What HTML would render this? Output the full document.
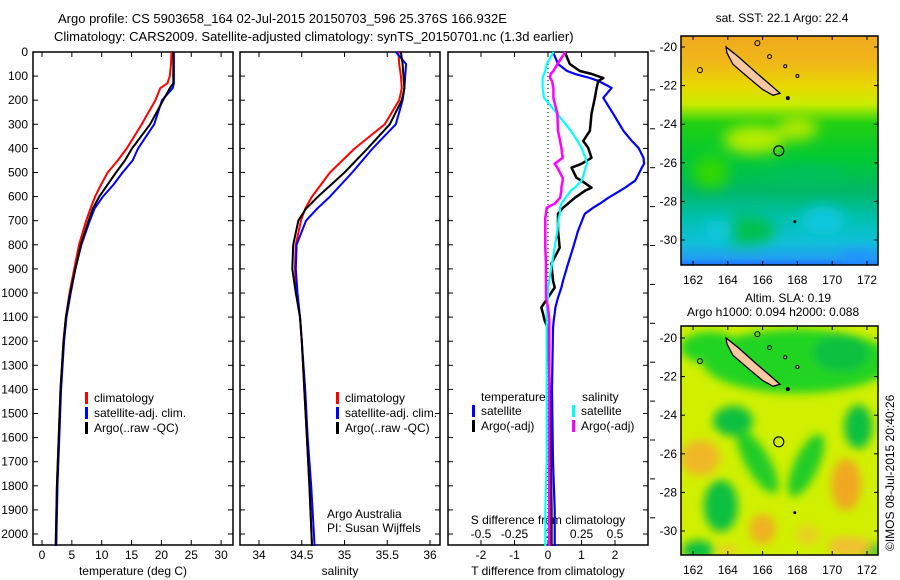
<!DOCTYPE html>
<html><head><meta charset="utf-8"><style>
html,body{margin:0;padding:0;background:#fff}
svg{display:block;font-family:"Liberation Sans",sans-serif}
text{font-size:12px;fill:#000}
</style></head><body>
<svg id="fig" width="900" height="580" viewBox="0 0 900 580" xmlns="http://www.w3.org/2000/svg">
<defs>
<filter id="blur" x="-20%" y="-20%" width="140%" height="140%"><feGaussianBlur stdDeviation="7"/></filter>
<filter id="blur2" x="-30%" y="-30%" width="160%" height="160%"><feGaussianBlur stdDeviation="4.5"/></filter>
<clipPath id="clipTop"><rect x="681" y="36" width="197" height="229"/></clipPath>
<clipPath id="clipBot"><rect x="681" y="326" width="197" height="229"/></clipPath>
<linearGradient id="sstGrad" x1="0" y1="0" x2="0" y2="1">
<stop offset="0" stop-color="#f0a820"/><stop offset="0.12" stop-color="#f0b818"/>
<stop offset="0.22" stop-color="#e8d800"/><stop offset="0.3" stop-color="#c8ec00"/>
<stop offset="0.38" stop-color="#20d010"/><stop offset="0.55" stop-color="#00c838"/>
<stop offset="0.68" stop-color="#00b868"/><stop offset="0.8" stop-color="#00c0b0"/>
<stop offset="0.9" stop-color="#10c0d8"/><stop offset="0.97" stop-color="#20a0f0"/><stop offset="1" stop-color="#2070ff"/>
</linearGradient>
</defs>
<text x="58" y="23" style="font-size:13px">Argo profile: CS 5903658_164 02-Jul-2015 20150703_596 25.376S 166.932E</text>
<text x="54" y="41" style="font-size:13px">Climatology: CARS2009. Satellite-adjusted climatology: synTS_20150701.nc (1.3d earlier)</text>
<g id="g"></g>
</svg>
<script>
// ---- data ----
const tDepth = [0,50,100,130,150,200,300,400,450,500,550,600,650,700,800,900,1000,1100,1200,1400,1600,1800,2050];
const tClim  = [21.7,21.6,21.4,21.0,19.8,19.0,16.7,14.2,12.7,11.0,9.9,8.9,8.1,7.4,6.2,5.4,4.6,4.0,3.6,3.1,2.8,2.5,2.3];
const tSat   = [22.1,22.1,22.1,22.1,21.9,20.1,18.8,16.1,15.2,13.5,12.0,10.2,8.8,8.0,6.6,5.6,4.8,4.1,3.7,3.2,2.9,2.6,2.4];
const tArgo  = [22.0,22.0,22.0,22.0,21.4,20.3,18.1,15.1,13.9,12.4,11.0,9.6,8.5,7.8,6.5,5.6,4.7,4.0,3.6,3.1,2.8,2.5,2.3];
const sDepth = [0,50,100,150,200,300,400,500,600,650,700,800,900,1000,1100,1200,1400,1600,1800,2050];
const sClim  = [35.63,35.64,35.66,35.67,35.64,35.47,35.12,34.83,34.62,34.54,34.49,34.43,34.42,34.44,34.48,34.50,34.53,34.56,34.59,34.62];
const sSat   = [35.60,35.72,35.71,35.70,35.68,35.60,35.33,35.09,34.83,34.68,34.55,34.44,34.43,34.45,34.48,34.50,34.54,34.57,34.61,34.65];
const sArgo  = [35.66,35.68,35.69,35.70,35.67,35.53,35.27,35.00,34.69,34.55,34.46,34.40,34.39,34.43,34.48,34.50,34.53,34.56,34.59,34.62];
const dDepth = [0,50,79,91,108,120,149,190,257,327,369,398,439,464,480,522,534,563,576,605,629,646,671,687,741,812,878,948,977,1019,1060,1085,1114,1147,1400,1700,1900,2050];
const dTSat  = [0.15,0.3,0.57,0.8,1.25,1.5,1.9,1.65,1.95,2.25,2.5,2.7,2.85,2.87,2.8,2.65,2.6,2.3,2.15,1.8,1.55,1.35,1.1,1.05,0.9,0.75,0.6,0.45,0.4,0.3,0.22,0.2,0.17,0.15,0.12,0.15,0.2,0.2];
const dTArgo = [0.5,0.65,0.95,1.3,1.65,1.5,1.45,1.4,1.3,1.25,1.05,1.2,1.3,1.0,0.7,0.85,1.0,1.3,1.1,0.8,0.6,0.45,0.3,0.3,0.3,0.35,0.1,0.15,0.2,0.0,-0.2,-0.15,-0.1,0.0,0.05,0.08,0.1,0.1];
const dSSat  = [0.04,-0.01,-0.02,-0.03,-0.04,-0.04,-0.04,-0.03,0.07,0.17,0.22,0.25,0.28,0.29,0.28,0.26,0.25,0.2,0.17,0.13,0.1,0.09,0.09,0.08,0.07,0.05,0.03,0.01,0.0,0.0,-0.01,-0.01,-0.01,-0.01,-0.01,-0.01,-0.02,-0.02];
const dSArgo = [0.13,0.07,0.04,0.02,0.015,0.03,0.04,0.04,0.07,0.075,0.09,0.1,0.11,0.05,0.07,0.11,0.11,0.1,0.1,0.09,0.05,-0.01,-0.015,-0.02,-0.02,-0.02,-0.015,-0.015,-0.015,-0.015,0.0,0.005,0.01,0.01,0.01,0.01,0.01,0.01];
const depthTicks = [0,100,200,300,400,500,600,700,800,900,1000,1100,1200,1300,1400,1500,1600,1700,1800,1900,2000];
const tempTicks = [0,5,10,15,20,25,30];
const salTicks = [34,34.5,35,35.5,36];
const tdTicks = [-2,-1,0,1,2];
const sdTicks = [-0.5,-0.25,0,0.25,0.5];
const sdLabels = ["-0.5","-0.25","0","0.25","0.5"];
const lonTicks = [162,164,166,168,170,172];
const latTicks = [20,22,24,26,28,30];

// ---- scales ----
const yD = d => 52 + d*0.241;
const xT = t => 42 + t*5.97;
const xS = s => 259 + (s-34)*85.5;
const xTD = v => 548 + v*33.5;
const xSD = v => 548 + v*134;
const lonX = l => 693 + (l-162)*17.4;
const latYt = l => 47 + (l-20)*19.3;
const latYb = l => 338 + (l-20)*19.3;

const NS="http://www.w3.org/2000/svg";
const g=document.getElementById('g');
function el(tag,attrs,parent){const e=document.createElementNS(NS,tag);for(const k in attrs)e.setAttribute(k,attrs[k]);(parent||g).appendChild(e);return e;}
function txt(x,y,s,anchor,size){const t=el('text',{x:x,y:y,'text-anchor':anchor||'start'});if(size)t.style.fontSize=size+'px';t.textContent=s;return t;}
function line(xs,ds,xf,color,w,name){
  const p=xs.map((v,i)=>xf(v).toFixed(1)+','+yD(ds[i]).toFixed(1)).join(' ');
  const e=el('polyline',{points:p,fill:'none',stroke:color,'stroke-width':w,'stroke-linejoin':'round'});
  
  
}
function frame(x,y,w,h,name){const r=el('rect',{x:x,y:y,width:w,height:h,fill:'none',stroke:'#000','stroke-width':1.5});
  
  }

frame(33,52,200,493,'temperature-panel');
frame(240,52,200,493,'salinity-panel');
frame(448,52,200,493,'difference-panel');
depthTicks.forEach(d=>{
  const y=yD(d);
  [33,240,448].forEach(x0=>{el('line',{x1:x0,y1:y,x2:x0+5,y2:y,stroke:'#000'});el('line',{x1:x0+195,y1:y,x2:x0+200,y2:y,stroke:'#000'});});
  const t=txt(28,y+4,String(d),'end');
  
  
});
for(let y=51;y<545;y+=38.9){el('line',{x1:650,y1:y,x2:655,y2:y,stroke:'#000'});}
tempTicks.forEach(t=>{const x=xT(t);el('line',{x1:x,y1:545,x2:x,y2:540,stroke:'#000'});el('line',{x1:x,y1:52,x2:x,y2:57,stroke:'#000'});
  const l=txt(x,559,String(t),'middle');});
salTicks.forEach(s=>{const x=xS(s);el('line',{x1:x,y1:545,x2:x,y2:540,stroke:'#000'});el('line',{x1:x,y1:52,x2:x,y2:57,stroke:'#000'});
  const l=txt(x,559,String(s),'middle');});
tdTicks.forEach(t=>{const x=xTD(t);el('line',{x1:x,y1:545,x2:x,y2:540,stroke:'#000'});el('line',{x1:x,y1:52,x2:x,y2:57,stroke:'#000'});
  const l=txt(x,559,String(t),'middle');});
sdTicks.forEach((s,i)=>{const l=txt(xSD(s),538,sdLabels[i],'middle');});
[[133,575,'temperature (deg C)','x-axis-title-temperature'],[340,575,'salinity','x-axis-title-salinity'],[548,575,'T difference from climatology','x-axis-title-t-diff'],[548,524,'S difference from climatology','x-axis-title-s-diff']].forEach(a=>{const t=txt(a[0],a[1],a[2],'middle');});

el('line',{x1:548,y1:52,x2:548,y2:545,stroke:'#000','stroke-dasharray':'1,3'});
line(tClim,tDepth,xT,'#ff0000',2,'temp-climatology-line');
line(tSat,tDepth,xT,'#0000ff',2,'temp-satellite-line');
line(tArgo,tDepth,xT,'#000000',2,'temp-argo-line');
line(sClim,sDepth,xS,'#ff0000',2,'sal-climatology-line');
line(sSat,sDepth,xS,'#0000ff',2,'sal-satellite-line');
line(sArgo,sDepth,xS,'#000000',2,'sal-argo-line');
line(dTSat,dDepth,xTD,'#0000ff',2.2,'t-diff-satellite-line');
line(dTArgo,dDepth,xTD,'#000000',2.5,'t-diff-argo-line');
line(dSSat,dDepth,xSD,'#00ffff',2.2,'s-diff-satellite-line');
line(dSArgo,dDepth,xSD,'#ff00ff',2.5,'s-diff-argo-line');

function leg(x,y,color,label,name){el('rect',{x:x,y:y-10,width:3,height:12,fill:color});const t=txt(x+9,y,label);}
leg(85,402,'#ff0000','climatology','legend-climatology');
leg(85,417,'#0000ff','satellite-adj. clim.','legend-satellite-adj');
leg(85,432,'#000000','Argo(..raw -QC)','legend-argo');
leg(336,402,'#ff0000','climatology','legend-sal-climatology');
leg(336,417,'#0000ff','satellite-adj. clim.','legend-sal-satellite-adj');
leg(336,432,'#000000','Argo(..raw -QC)','legend-sal-argo');
txt(481,401,'temperature');txt(582,401,'salinity');
leg(472,415,'#0000ff','satellite','legend-t-satellite');
leg(472,430,'#000000','Argo(-adj)','legend-t-argo');
leg(572,415,'#00ffff','satellite','legend-s-satellite');
leg(572,430,'#ff00ff','Argo(-adj)','legend-s-argo');
txt(327,518,'Argo Australia');txt(327,532,'PI: Susan Wijffels');

function island(latY){
  const pts=[[163.9,20.0],[164.6,20.5],[165.6,21.3],[166.5,22.0],[167.0,22.4],[166.6,22.5],[166.0,22.2],[165.2,21.6],[164.3,20.9],[163.95,20.3]];
  el('polygon',{points:pts.map(p=>lonX(p[0]).toFixed(1)+','+latY(p[1]).toFixed(1)).join(' '),fill:'#f8c8a0',stroke:'#000','stroke-width':1.3});
  el('circle',{cx:lonX(167.45),cy:latY(22.65),r:2,fill:'#000'});
  el('circle',{cx:lonX(165.7),cy:latY(19.8),r:2.5,fill:'none',stroke:'#000'});
  el('circle',{cx:lonX(162.4),cy:latY(21.2),r:2.5,fill:'none',stroke:'#000'});
  el('circle',{cx:lonX(166.4),cy:latY(20.5),r:2,fill:'none',stroke:'#000'});
  el('circle',{cx:lonX(167.3),cy:latY(21.0),r:1.5,fill:'#f8c8a0',stroke:'#000'});
  el('circle',{cx:lonX(168.0),cy:latY(21.5),r:1.5,fill:'#f8c8a0',stroke:'#000'});
  el('circle',{cx:lonX(167.85),cy:latY(29.05),r:1.5,fill:'#000'});
  const m=el('circle',{cx:lonX(166.93),cy:latY(25.38),r:5,fill:'none',stroke:'#000','stroke-width':1.2});
  
  
}
function mapAxes(y0,latY,name){
  frame(681,y0,197,229,name);
  lonTicks.forEach(l=>{const x=lonX(l);el('line',{x1:x,y1:y0,x2:x,y2:y0+4,stroke:'#000'});el('line',{x1:x,y1:y0+229,x2:x,y2:y0+225,stroke:'#000'});
    const t=txt(x,y0+248,String(l),'middle');});
  latTicks.forEach(l=>{const y=latY(l);el('line',{x1:681,y1:y,x2:685,y2:y,stroke:'#000'});el('line',{x1:878,y1:y,x2:874,y2:y,stroke:'#000'});
    const t=txt(677,y+4,'-'+l,'end');});
}
const sstMap=el('g',{'clip-path':'url(#clipTop)'});


el('rect',{x:681,y:36,width:197,height:229,fill:'url(#sstGrad)'},sstMap);
const tb=el('g',{filter:'url(#blur)'},sstMap);
[[165.5,24.8,30,14,'#b8ec00'],[168,24.2,20,12,'#b0e800'],[163,26.5,18,16,'#30d800'],[168.5,26.6,40,8,'#00c060'],[165,29.5,30,14,'#00c048'],[163.5,29.5,14,10,'#10c8e0'],[169.5,29,22,14,'#10c8e0'],[171.5,31,20,8,'#2090ff']].forEach(b=>el('ellipse',{cx:lonX(b[0]),cy:latYt(b[1]),rx:b[2],ry:b[3],fill:b[4]},tb));
island(latYt);
mapAxes(36,latYt,'sst-map-frame');
txt(782,22,'sat. SST: 22.1 Argo: 22.4','middle');
const slaMap=el('g',{'clip-path':'url(#clipBot)'});


el('rect',{x:681,y:326,width:197,height:229,fill:'#d0f000'},slaMap);
const bb=el('g',{filter:'url(#blur2)'},slaMap);
// lon, lat, rx, ry, rotation, colour
[[168,21.2,95,32,0,'#20d420'],[163,20.5,30,16,0,'#20d420'],[170.5,20.8,28,18,0,'#10c040'],[164.3,24.3,20,15,0,'#10c040'],[165.7,26.4,12,36,-30,'#20cc28'],[168.5,26.6,12,34,25,'#20cc28'],[171.5,24.6,14,22,0,'#10c040'],[163.6,28.7,17,26,0,'#10c040'],[162.3,31,16,10,0,'#10c040'],[172.2,31,12,8,0,'#20cc28'],
 [162.4,26.2,20,18,0,'#f0b828'],[170.8,27.6,15,26,0,'#f0a820'],[166,29.9,13,15,0,'#f0b020'],[171,30.8,22,10,0,'#f0c030'],[168.6,30.2,12,10,0,'#e8d020'],[164,31,10,6,0,'#e8d020']].forEach(b=>el('ellipse',{cx:lonX(b[0]),cy:latYb(b[1]),rx:b[2],ry:b[3],fill:b[5],transform:'rotate('+b[4]+' '+lonX(b[0])+' '+latYb(b[1])+')'},bb));
island(latYb);
mapAxes(326,latYb,'sla-map-frame');
txt(745,302,'Altim. SLA: 0.19');txt(687,316,'Argo h1000: 0.094 h2000: 0.088');
const credit=txt(0,0,'©IMOS 08-Jul-2015 20:40:26','start');
credit.setAttribute('transform','translate(894,551) rotate(-90)');


</script>
</body></html>
